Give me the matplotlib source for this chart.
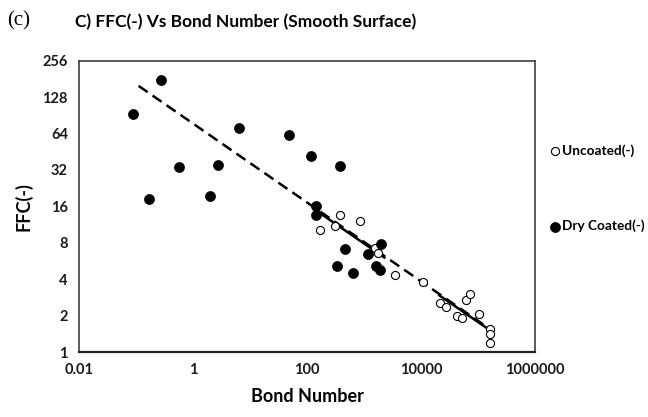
import matplotlib
matplotlib.use("Agg")
import matplotlib.pyplot as plt
import numpy as np

# Data
uncoated_x = [373, 861, 171, 305, 1578, 1733, 3540, 10670, 21800, 27480,
              60600, 73300, 42800, 52400, 102500, 164400, 164400, 164400]
uncoated_y = [13.6, 12.2, 10.2, 11.1, 7.2, 6.63, 4.33, 3.77, 2.56, 2.37,
              2.69, 3.0, 1.99, 1.92, 2.06, 1.54, 1.41, 1.19]

dry_x = [0.0885, 0.275, 0.169, 0.558, 2.75, 1.99, 6.49, 48.3, 119, 379,
         141.6, 145.6, 457, 336, 631, 1157, 1988, 1625, 1932]
dry_y = [93.5, 176, 18.3, 33.7, 35.4, 19.6, 71.6, 62.7, 41.8, 34.5,
         16.2, 13.5, 7.07, 5.17, 4.5, 6.46, 7.82, 5.17, 4.77]

# Power-law trend lines y = a * x^b
dashed_a, dashed_b = 77.4, -0.3262
dashed_range = [0.111, 164400]
solid_a, solid_b = 74.3, -0.3246
solid_ranges = [[140, 2370], [20100, 164400]]

x_ticks = [0.01, 1, 100, 10000, 1000000]
x_tick_labels = ["0.01", "1", "100", "10000", "1000000"]
y_ticks = [1, 2, 4, 8, 16, 32, 64, 128, 256]

FONT = "Lato"

fig = plt.figure(figsize=(6.48, 4.17), dpi=100)
ax = fig.add_axes([79/648, 1-352/417, (535-79)/648, (352-60.7)/417])

ax.set_xscale("log")
ax.set_yscale("log", base=2)
ax.set_xlim(0.01, 1e6)
ax.set_ylim(1, 256)

# trend lines
xd = np.logspace(np.log10(dashed_range[0]), np.log10(dashed_range[1]), 100)
ax.plot(xd, dashed_a * xd**dashed_b, color="black", lw=1.8,
        dashes=(4.4, 2.4), zorder=2)
for r in solid_ranges:
    xs = np.logspace(np.log10(r[0]), np.log10(r[1]), 50)
    ax.plot(xs, solid_a * xs**solid_b, color="black", lw=1.8,
            solid_capstyle="butt", zorder=2)

sc_u = ax.scatter(uncoated_x, uncoated_y, s=34, facecolors="white",
                  edgecolors="black", linewidths=0.8, zorder=3,
                  label="Uncoated(-)")
sc_d = ax.scatter(dry_x, dry_y, s=52, facecolors="black", edgecolors="black",
                  linewidths=0.5, zorder=4, label="Dry Coated(-)")

ax.set_xticks(x_ticks)
ax.set_xticklabels(x_tick_labels)
ax.set_yticks(y_ticks)
ax.set_yticklabels([str(v) for v in y_ticks])
ax.minorticks_off()
ax.tick_params(length=0, pad=8)
for lab in ax.get_xticklabels() + ax.get_yticklabels():
    lab.set_fontfamily(FONT)
    lab.set_fontweight("bold")
    lab.set_fontsize(10.5)
    lab.set_color("#1a1a1a")

for sp in ax.spines.values():
    sp.set_color("#404040")
    sp.set_linewidth(1.2)
ax.spines["bottom"].set_color("#222222")
ax.spines["bottom"].set_linewidth(1.6)

ax.set_xlabel("Bond Number", fontfamily=FONT, fontweight="bold",
              fontsize=13, labelpad=8)
ax.set_ylabel("FFC(-)", fontfamily=FONT, fontweight="bold",
              fontsize=13)
ax.yaxis.set_label_coords(-(79 - 33) / 456, 0.5)

fig.text(75/648, 1-22/417, "C) FFC(-) Vs Bond Number (Smooth Surface)",
         fontfamily=FONT, fontweight="bold", fontsize=12.5, va="center",
         ha="left")
fig.text(7/648, 1-21/417, "(c)", fontfamily="Liberation Serif",
         fontsize=15, va="center", ha="left")

leg = fig.legend(handles=[sc_u, sc_d], loc="upper left",
                 bbox_to_anchor=(543/648, 1-139/417), frameon=False,
                 handletextpad=0.0, labelspacing=4.6, handlelength=1.0,
                 borderaxespad=0, borderpad=0.4,
                 prop={"family": FONT, "weight": "bold", "size": 9.8})

fig.savefig("out.png", dpi=100)
